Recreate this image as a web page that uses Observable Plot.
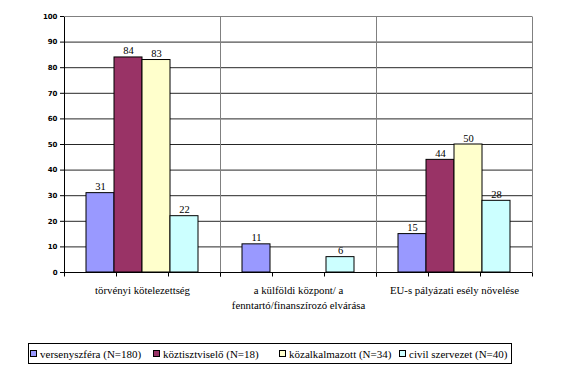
<!DOCTYPE html>
<html>
<head>
<meta charset="utf-8">
<script src="https://cdn.jsdelivr.net/npm/d3@7"></script>
<script src="https://cdn.jsdelivr.net/npm/@observablehq/plot@0.6"></script>
<style>
  body { margin: 0; background: #fff; }
  #wrap { position: relative; width: 585px; height: 382px; }
  #legend { position: absolute; left: 28px; top: 343px; width: 482px; height: 19px;
    border: 1px solid #000; font-family: "Liberation Serif", "Times New Roman", "DejaVu Serif", serif; font-size: 11px; color: #000; }
  #legend .item { position: absolute; top: 0; height: 19px; display: flex; align-items: center; white-space: nowrap; }
  #legend .sw { width: 5px; height: 5px; border: 1px solid #000; margin-right: 3px; }
</style>
</head>
<body>
<div id="wrap"><div id="chart"></div><div id="legend"></div></div>
<script>
const categories = ["törvényi kötelezettség", "a külföldi központ/ a fenntartó/finanszírozó elvárása", "EU-s pályázati esély növelése"];
const categoryLabels = ["törvényi kötelezettség", "a külföldi központ/ a\nfenntartó/finanszírozó elvárása", "EU-s pályázati esély növelése"];
const series = ["versenyszféra (N=180)", "köztisztviselő (N=18)", "közalkalmazott (N=34)", "civil szervezet (N=40)"];
const versenyszfera = [31, 11, 15];
const koztisztviselo = [84, null, 44];
const kozalkalmazott = [83, null, 50];
const civilSzervezet = [22, 6, 28];
const colors = ["#9999FF", "#993366", "#FFFFCC", "#CCFFFF"];
const yTicks = [0, 10, 20, 30, 40, 50, 60, 70, 80, 90, 100];
const legendOffsets = [1, 124, 250, 370];

const seriesValues = [versenyszfera, koztisztviselo, kozalkalmazott, civilSzervezet];
const rows = [];
categories.forEach((c, i) => {
  series.forEach((s, j) => {
    const v = seriesValues[j][i];
    if (v != null) rows.push({cat: c, series: s, value: v});
  });
});

const serif = "'Liberation Serif', 'Times New Roman', 'DejaVu Serif', serif";

function chrome(index, scales, values, dims) {
  const {width, height, marginLeft, marginRight, marginTop, marginBottom} = dims;
  const x0 = marginLeft, x1 = width - marginRight, yb = height - marginBottom;
  const g = d3.create("svg:g");
  g.append("line").attr("x1", x1 + 0.5).attr("x2", x1 + 0.5).attr("y1", marginTop + 0.5).attr("y2", yb + 0.5)
    .attr("stroke", "#808080");
  const n = categories.length;
  for (let i = 0; i <= n; i++) {
    const x = Math.round(x0 + (x1 - x0) * i / n) + 0.5;
    g.append("line").attr("x1", x).attr("x2", x).attr("y1", yb + 0.5).attr("y2", yb + 4.5).attr("stroke", "#000");
  }
  return g.node();
}

const plot = Plot.plot({
  width: 585,
  height: 340,
  marginLeft: 64,
  marginRight: 53,
  marginTop: 16,
  marginBottom: 68,
  style: {fontFamily: "'DejaVu Sans', sans-serif", fontSize: "7px", fontWeight: "bold", color: "#000", background: "#fff"},
  fx: {domain: categories, padding: 0, axis: null, label: null},
  x: {domain: series, paddingInner: 0, paddingOuter: 0.755, axis: null, label: null},
  y: {domain: [0, 100], ticks: yTicks, tickSize: 4, tickPadding: 3, line: true, label: null, tickFormat: d => String(d)},
  color: {domain: series, range: colors},
  marks: [
    Plot.ruleY(yTicks.filter(v => v > 0 && v < 100), {stroke: "#000", strokeOpacity: 0.85}),
    Plot.ruleY([100], {stroke: "#808080"}),
    Plot.barY(rows, {fx: "cat", x: "series", y: "value", fill: "series", stroke: "#000", strokeWidth: 1}),
    Plot.text(rows, {fx: "cat", x: "series", y: "value", text: d => String(d.value), dy: -3, lineAnchor: "bottom",
      fontFamily: serif, fontSize: 10.5, fontWeight: "normal", fill: "#000"}),
    Plot.ruleY([0], {stroke: "#000"}),
    Plot.text(categories, {fx: d => d, text: (d, i) => categoryLabels[i], frameAnchor: "bottom", lineAnchor: "top", dy: 12,
      fontFamily: serif, fontSize: 10.8, fontWeight: "normal", lineHeight: 1.3, fill: "#000"}),
    chrome
  ]
});
document.getElementById("chart").appendChild(plot);

const legend = document.getElementById("legend");
series.forEach((s, i) => {
  const item = document.createElement("div");
  item.className = "item";
  item.style.left = legendOffsets[i] + "px";
  const sw = document.createElement("span");
  sw.className = "sw";
  sw.style.background = colors[i];
  const t = document.createElement("span");
  t.textContent = s;
  item.appendChild(sw);
  item.appendChild(t);
  legend.appendChild(item);
});
</script>
</body>
</html>
